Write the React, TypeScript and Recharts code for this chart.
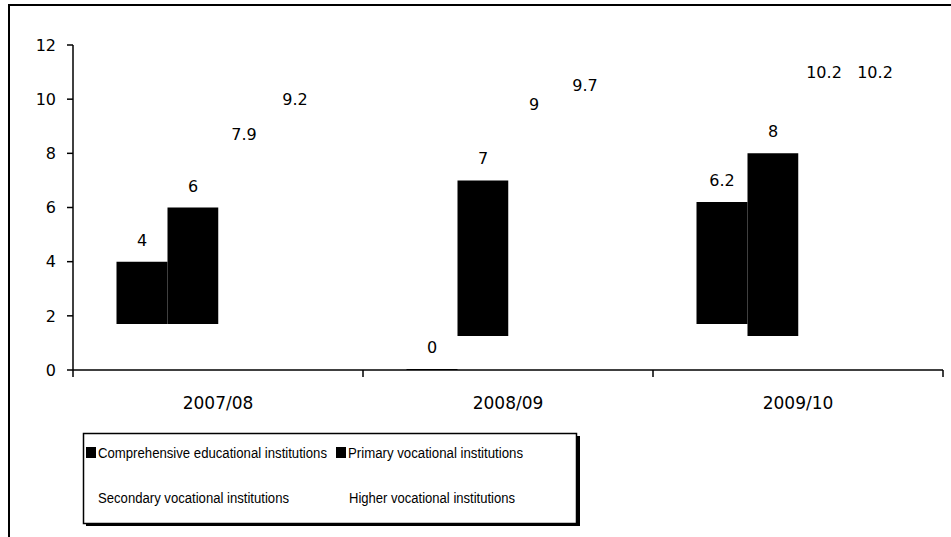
import React from "react";
import { BarChart, Bar, XAxis, YAxis, LabelList } from "recharts";

const categories = ["2007/08", "2008/09", "2009/10"];
const comprehensive = [4, 0, 6.2];
const primary = [6, 7, 8];
const secondary = [7.9, 9, 10.2];
const higher = [9.2, 9.7, 10.2];
// bottoms of the black blocks as they sit in the picture
const comprehensiveBase = [1.7, 0, 1.7];
const primaryBase = [1.7, 1.26, 1.26];
const yTicks = [0, 2, 4, 6, 8, 10, 12];
const seriesNames = [
  "Comprehensive educational institutions",
  "Primary vocational institutions",
  "Secondary vocational institutions",
  "Higher vocational institutions",
];

const data = categories.map((category, i) => ({
  category,
  comp: comprehensive[i],
  compRange: [comprehensiveBase[i], comprehensive[i]],
  prim: primary[i],
  primRange: [primaryBase[i], primary[i]],
  sec: secondary[i],
  high: higher[i],
}));

const FONT = "'DejaVu Sans', sans-serif";
const LEGEND_FONT = "'Liberation Sans', sans-serif";
const TICK_MARGIN = 27;

const CategoryTick = (props: any) => {
  const { x, y, payload, index } = props;
  const half = payload?.offset ?? 0;
  const axisY = y - TICK_MARGIN;
  return (
    <g>
      <line x1={x - half} x2={x - half} y1={axisY} y2={axisY + 7} stroke="#000" strokeWidth={1.5} />
      {index === categories.length - 1 && (
        <line x1={x + half} x2={x + half} y1={axisY} y2={axisY + 7} stroke="#000" strokeWidth={1.5} />
      )}
      <text x={x} y={y} dy="0.71em" textAnchor="middle" fontFamily={FONT} fontSize={17} fill="#000">
        {payload.value}
      </text>
    </g>
  );
};

const legendRows = [
  [
    { name: seriesNames[0], swatch: true, x: 98, w: 229 },
    { name: seriesNames[1], swatch: true, x: 348, w: 175 },
  ],
  [
    { name: seriesNames[2], swatch: false, x: 98, w: 191 },
    { name: seriesNames[3], swatch: false, x: 349, w: 166 },
  ],
];

function ChartLegend() {
  return (
    <svg width={600} height={110} style={{ position: "absolute", left: 0, top: 420 }}>
      <rect x={86} y={16} width={494} height={90} fill="#000" />
      <rect x={83.5} y={13.5} width={493} height={90} fill="#fff" stroke="#000" strokeWidth={1.5} />
      {legendRows.map((row, r) =>
        row.map((item) => (
          <g key={item.name}>
            {item.swatch && (
              <rect x={item.x - 12} y={27 + r * 45} width={10} height={11} fill="#000" />
            )}
            <text
              x={item.x}
              y={33 + r * 45}
              dy="0.35em"
              fontFamily={LEGEND_FONT}
              fontSize={14}
              textLength={item.w}
              lengthAdjust="spacingAndGlyphs"
              fill="#000"
            >
              {item.name}
            </text>
          </g>
        ))
      )}
    </svg>
  );
}

export default function App() {
  return (
    <div
      style={{
        position: "fixed",
        left: 0,
        top: 0,
        width: 951,
        height: 537,
        background: "#fff",
        overflow: "hidden",
      }}
    >
      <BarChart
        width={951}
        height={537}
        data={data}
        margin={{ top: 45, right: 8, left: 0, bottom: 137 }}
        barCategoryGap="15%"
        barGap={0}
      >
        <XAxis
          dataKey="category"
          height={30}
          axisLine={{ stroke: "#000", strokeWidth: 1.5 }}
          tickLine={false}
          tickSize={0}
          tickMargin={TICK_MARGIN}
          tick={<CategoryTick />}
          interval={0}
        />
        <YAxis
          width={73}
          domain={[0, 12]}
          ticks={yTicks}
          interval={0}
          axisLine={{ stroke: "#000", strokeWidth: 1.5 }}
          tickLine={{ stroke: "#000", strokeWidth: 1.5 }}
          tickSize={6}
          tickMargin={11}
          tick={{ fill: "#000", fontFamily: FONT, fontSize: 16 }}
        />
        <Bar dataKey="compRange" name={seriesNames[0]} fill="#000" minPointSize={1} isAnimationActive={false}>
          <LabelList dataKey="comp" position="top" offset={16} fill="#000" fontFamily={FONT} fontSize={16} />
        </Bar>
        <Bar dataKey="primRange" name={seriesNames[1]} fill="#000" isAnimationActive={false}>
          <LabelList dataKey="prim" position="top" offset={16} fill="#000" fontFamily={FONT} fontSize={16} />
        </Bar>
        <Bar dataKey="sec" name={seriesNames[2]} fill="#fff" isAnimationActive={false}>
          <LabelList dataKey="sec" position="top" offset={16} fill="#000" fontFamily={FONT} fontSize={16} />
        </Bar>
        <Bar dataKey="high" name={seriesNames[3]} fill="#fff" isAnimationActive={false}>
          <LabelList dataKey="high" position="top" offset={16} fill="#000" fontFamily={FONT} fontSize={16} />
        </Bar>
      </BarChart>
      <ChartLegend />
      <div
        style={{
          position: "absolute",
          left: 8,
          top: 4,
          width: 943,
          height: 533,
          borderTop: "2px solid #000",
          borderLeft: "2px solid #000",
          pointerEvents: "none",
        }}
      />
    </div>
  );
}
